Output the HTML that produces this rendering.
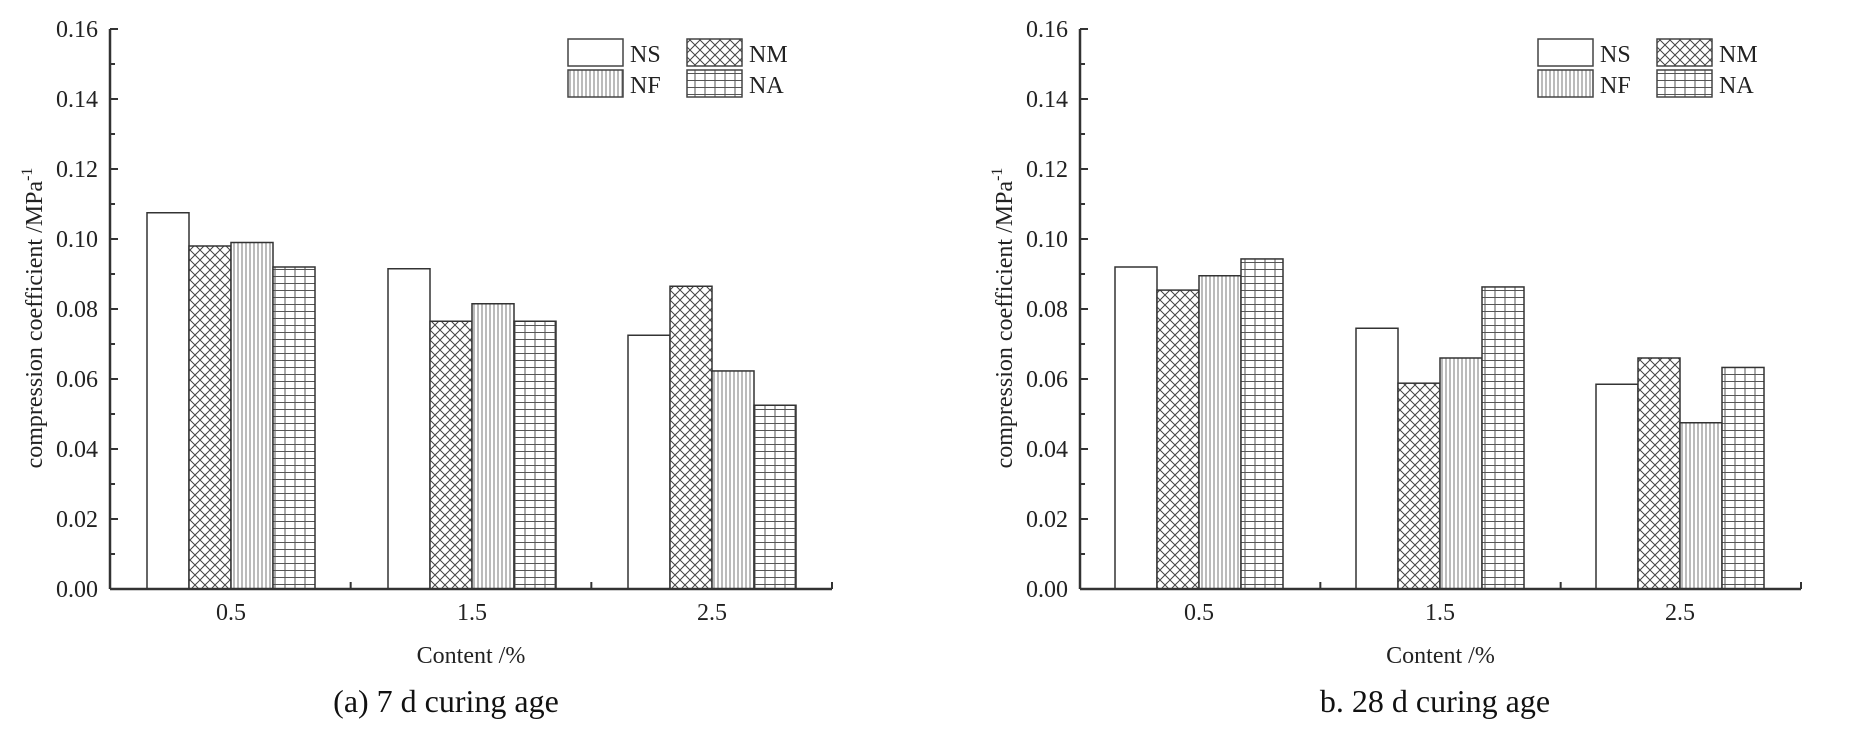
<!DOCTYPE html>
<html><head><meta charset="utf-8"><style>html,body{margin:0;padding:0;background:#fff}svg{display:block}</style></head><body>
<svg width="1855" height="729" xmlns="http://www.w3.org/2000/svg" font-family="Liberation Serif, serif">
<defs>
<pattern id="cross" width="10" height="10" patternUnits="userSpaceOnUse"><path d="M0 0L10 10M10 0L0 10" stroke="#444" stroke-width="1" fill="none"/></pattern>
<pattern id="vert" width="4" height="10" patternUnits="userSpaceOnUse"><path d="M2 0V10" stroke="#777" stroke-width="1" fill="none"/></pattern>
<pattern id="grid" width="10" height="7" patternUnits="userSpaceOnUse"><path d="M5 0V7M0 3.5H10" stroke="#555" stroke-width="1" fill="none"/></pattern>
</defs>
<rect width="1855" height="729" fill="#fff"/>
<g id="L" stroke="#333" stroke-width="1.5">
</g>
<script>
(function(){
const ns="http://www.w3.org/2000/svg",svg=document.querySelector('svg');
function el(t,a,txt){const e=document.createElementNS(ns,t);for(const k in a)e.setAttribute(k,a[k]);if(txt!==undefined)e.textContent=txt;svg.appendChild(e);return e;}
const fills=['#fff','url(#cross)','url(#vert)','url(#grid)'];
function chart(ax,xend,groups,vals,ylx,cap,capx){
  const y0=589,k=3500;
  // bars
  groups.forEach((gx,gi)=>{for(let i=0;i<4;i++){const v=vals[gi][i],top=y0-v*k;
    el('rect',{x:gx+i*42,y:top,width:42,height:y0-top,fill:'#fff'});
    el('rect',{x:gx+i*42,y:top,width:42,height:y0-top,fill:fills[i],stroke:'#333','stroke-width':1.5});}});
  // axes
  el('line',{x1:ax,y1:29,x2:ax,y2:y0,stroke:'#333','stroke-width':2.5});
  el('line',{x1:ax,y1:y0,x2:xend,y2:y0,stroke:'#333','stroke-width':2.5});
  el('line',{x1:xend,y1:y0,x2:xend,y2:y0-7,stroke:'#333','stroke-width':2});
  for(let i=0;i<=16;i++){const y=y0-i*35;el('line',{x1:ax,y1:y,x2:ax+(i%2?5:8),y2:y,stroke:'#333','stroke-width':2});
    if(i%2==0)el('text',{x:ax-12,y:y+8,'font-size':24,'text-anchor':'end',fill:'#222'},(i*0.01).toFixed(2));}
  const span=(xend-ax)/3;
  for(let j=1;j<3;j++)el('line',{x1:ax+span*j,y1:y0,x2:ax+span*j,y2:y0-7,stroke:'#333','stroke-width':2});
  ['0.5','1.5','2.5'].forEach((t,j)=>el('text',{x:groups[j]+84,y:620,'font-size':24,'text-anchor':'middle',fill:'#222'},t));
  el('text',{x:(ax+xend)/2,y:663,'font-size':24,'text-anchor':'middle',fill:'#222'},'Content /%');
  const t=el('text',{x:0,y:0,'font-size':24,'text-anchor':'middle',fill:'#222',transform:`translate(${ylx},318) rotate(-90)`},'compression coefficient /MPa');
  const s=document.createElementNS(ns,'tspan');s.setAttribute('dy','-10');s.setAttribute('font-size','16');s.textContent='-1';t.appendChild(s);
  el('text',{x:capx,y:712,'font-size':32,'text-anchor':'middle',fill:'#111'},cap);
  // legend
  const lx=ax+458;
  [['NS',0,0],['NM',1,1],['NF',2,0],['NA',3,1]].forEach(([n,fi,c],i)=>{const r=i<2?0:1;const bx=lx+c*119,by=39+r*31;
    el('rect',{x:bx,y:by,width:55,height:27,fill:fills[fi],stroke:'#444','stroke-width':1.5});
    el('text',{x:bx+62,y:by+23,'font-size':24,fill:'#222'},n);});
}
chart(110,832,[147,388,628],[[0.1075,0.098,0.099,0.092],[0.0915,0.0765,0.0815,0.0765],[0.0725,0.0865,0.0623,0.0525]],42,'(a) 7 d curing age',446);
chart(1080,1801,[1115,1356,1596],[[0.092,0.0854,0.0895,0.0943],[0.0745,0.0588,0.066,0.0863],[0.0585,0.066,0.0475,0.0633]],1012,'b. 28 d curing age',1435);
})();
</script>
</svg>
</body></html>
